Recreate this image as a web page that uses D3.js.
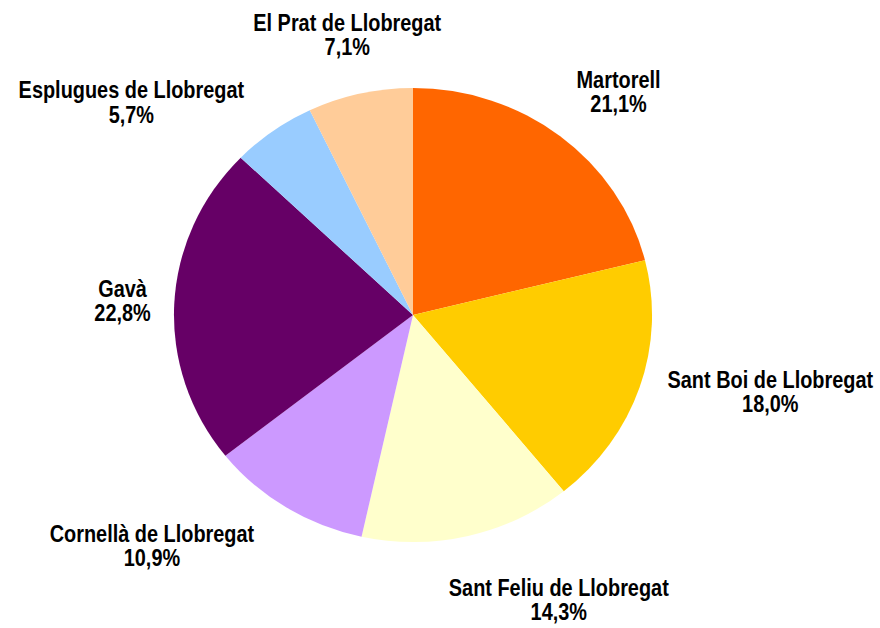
<!DOCTYPE html>
<html>
<head>
<meta charset="utf-8">
<script src="https://cdn.jsdelivr.net/npm/d3@7"></script>
<style>
  body { margin: 0; background: #fff; }
  svg text { font-family: "Liberation Sans", Arial, sans-serif; font-weight: bold; font-size: 23px; fill: #000; }
</style>
</head>
<body>
<div id="chart"></div>
<script>
// data, clockwise from 12 o'clock
var names = ["Martorell", "Sant Boi de Llobregat", "Sant Feliu de Llobregat", "Cornellà de Llobregat",
             "Gavà", "Esplugues de Llobregat", "El Prat de Llobregat"];
var shares = [21.1, 18.0, 14.3, 10.9, 22.8, 5.7, 7.1];
var colors = ["#FF6600", "#FFCC00", "#FFFFCC", "#CC99FF", "#660066", "#99CCFF", "#FFCC99"];

// manual label shifts (Excel labels were dragged a bit)
var labelNudge = [[13, -5], [3, -11], [58, 15], [-63, -4], [8, -1], [-57, 12], [15, -10]];

var width = 880, height = 628;
var cx = 413, cy = 315, radius = 227, stretch = 1.053;
var narrow = 0.865; // no Arial Narrow here, so squeeze the bold sans

var svg = d3.select("#chart")
  .append("svg")
    .attr("width", width)
    .attr("height", height);

var data = names.map(function(n, i) { return {name: n, value: shares[i], color: colors[i], nudge: labelNudge[i]}; });

var pie = d3.pie()
  .sort(null)
  .value(function(d) { return d.value; });

var arc = d3.arc()
  .innerRadius(0)
  .outerRadius(radius);

var arcs = pie(data);

// slices (pie is slightly wider than tall in the original)
svg.append("g")
    .attr("transform", "translate(" + cx + "," + cy + ") scale(" + stretch + ",1)")
  .selectAll("path")
  .data(arcs)
  .enter()
  .append("path")
    .attr("d", arc)
    .attr("fill", function(d) { return d.data.color; });

var fmt = d3.formatLocale({decimal: ",", thousands: ".", grouping: [3], currency: ["", "€"]}).format(".1f");

// labels outside the slices
var gap = 30;
var labels = svg.append("g")
  .selectAll("g")
  .data(arcs)
  .enter()
  .append("g");

labels.append("text")
  .attr("text-anchor", "middle")
  .attr("y", -4)
  .text(function(d) { return d.data.name; });
labels.append("text")
  .attr("text-anchor", "middle")
  .attr("y", 20.5)
  .text(function(d) { return fmt(d.data.value) + "%"; });

labels.each(function(d) {
  var g = d3.select(this);
  var w = g.node().getBBox().width * narrow, h = 40;
  var a = (d.startAngle + d.endAngle) / 2;
  var s = Math.sin(a), c = Math.cos(a);
  var px = cx + (radius + gap) * s * stretch,
      py = cy - (radius + gap) * c;
  var bx = px + s * w / 2 + d.data.nudge[0],
      by = py - c * h / 2 + d.data.nudge[1];
  g.attr("transform", "translate(" + bx + "," + by + ") scale(" + narrow + ",1)");
});
</script>
</body>
</html>
